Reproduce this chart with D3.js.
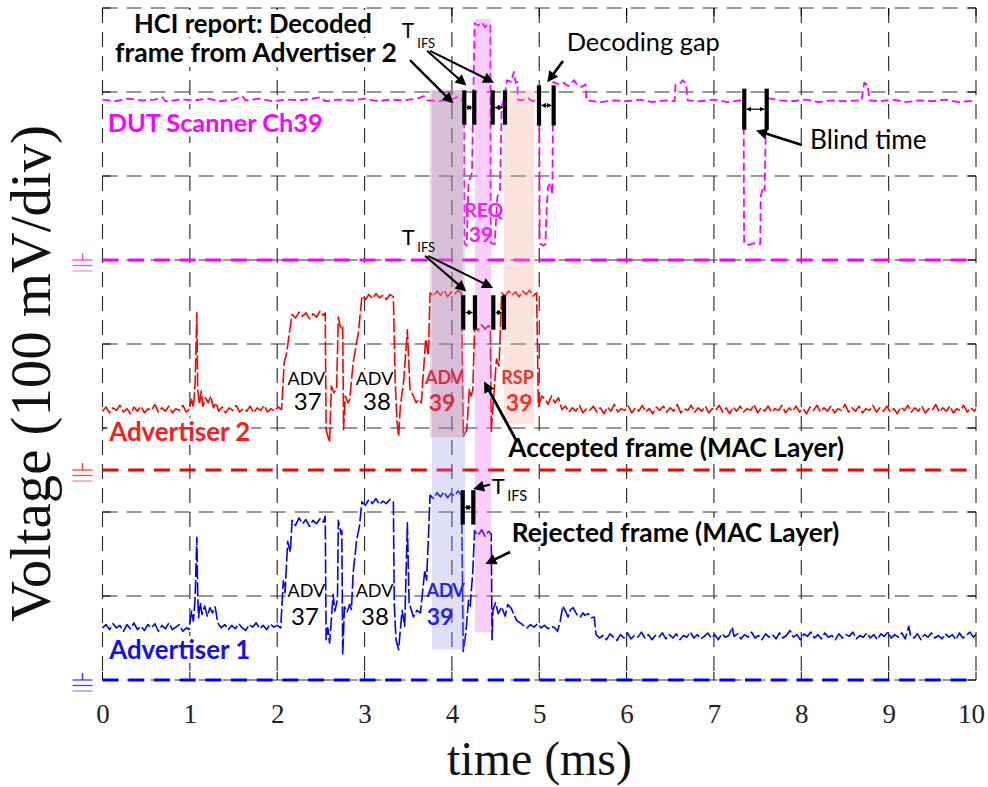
<!DOCTYPE html>
<html>
<head>
<meta charset="utf-8">
<script src="https://cdn.jsdelivr.net/npm/d3@7"></script>
<style>
  html, body { margin: 0; padding: 0; background: #fff; }
  svg { display: block; }
</style>
</head>
<body>
<script>
// ---- Oscilloscope captures, values in mV above each channel's ground marker ----
// [time (ms), voltage (mV)]
const scannerCh39 = [
  [0.00,191],[0.15,189],[0.30,192],[0.45,190],[0.60,191],[0.68,194],[0.72,189],[0.90,191],[1.05,190],[1.20,192],
  [1.35,189],[1.50,191],[1.60,195],[1.64,190],[1.80,192],[1.95,189],[2.10,191],[2.25,190],[2.40,192],[2.50,194],
  [2.55,189],[2.70,191],[2.85,190],[3.00,192],[3.15,189],[3.30,191],[3.45,190],[3.60,192],[3.68,195],[3.72,190],
  [3.85,189],[4.00,191],[4.06,194],[4.10,190],[4.14,191],
  [4.145,20],[4.17,17],[4.19,92],[4.23,104],[4.26,282],[4.30,279],[4.34,283],[4.38,277],[4.41,281],[4.44,280],
  [4.445,20],[4.49,19],[4.52,75],[4.55,83],[4.57,182],[4.60,193],[4.63,214],[4.68,212],[4.71,224],[4.73,211],
  [4.75,212],[4.755,191],[4.80,190],[4.87,193],[4.92,189],[5.00,191],
  [5.005,20],[5.02,19],[5.05,17],[5.07,19],[5.085,60],[5.10,87],[5.13,92],[5.15,78],[5.16,212],[5.22,209],
  [5.28,211],[5.33,207],[5.40,214],[5.43,209],[5.48,206],[5.53,209],
  [5.54,190],[5.70,188],[5.85,190],[6.00,189],[6.15,191],[6.30,188],[6.45,190],[6.55,189],[6.56,209],[6.62,211],
  [6.64,214],[6.68,210],[6.70,190],[6.85,189],[7.00,191],[7.15,188],[7.30,190],[7.34,189],
  [7.345,20],[7.40,18],[7.46,20],[7.53,19],[7.535,75],[7.56,87],[7.58,83],[7.60,193],[7.75,190],[7.90,189],
  [8.05,191],[8.20,188],[8.35,190],[8.50,189],[8.65,190],[8.69,190],[8.72,211],[8.76,209],[8.78,190],[8.90,189],
  [9.05,191],[9.20,188],[9.35,190],[9.50,189],[9.65,191],[9.80,188],[10.00,190]
];

const advertiser2 = [
  [0.00,70],[0.04,75],[0.08,68],[0.12,74],[0.16,71],[0.20,77],[0.24,69],[0.28,73],[0.32,67],[0.36,75],
  [0.40,70],[0.44,76],[0.48,68],[0.52,73],[0.56,71],[0.60,78],[0.64,69],[0.68,74],[0.72,70],[0.76,76],
  [0.80,68],[0.84,73],[0.88,71],[0.92,77],[0.96,69],[0.99,72],
  [1.02,84],[1.04,74],[1.06,102],[1.08,187],[1.09,96],[1.11,78],[1.13,94],[1.15,76],[1.18,86],[1.21,80],
  [1.24,88],[1.27,74],[1.30,80],[1.33,70],[1.37,75],[1.41,68],[1.45,74],[1.49,71],[1.53,77],[1.57,69],
  [1.61,73],[1.65,70],[1.69,76],[1.73,68],[1.77,74],[1.81,71],[1.85,77],[1.89,69],[1.93,73],[1.97,70],
  [2.01,75],[2.05,72],
  [2.08,128],[2.11,140],[2.14,164],[2.17,185],[2.21,181],[2.25,188],[2.29,183],[2.33,187],[2.37,180],[2.41,186],
  [2.45,182],[2.49,189],[2.53,184],[2.55,187],
  [2.56,48],[2.60,33],[2.62,100],[2.65,92],[2.68,96],[2.70,182],[2.73,167],[2.75,170],[2.76,48],[2.78,88],
  [2.81,80],[2.83,84],[2.87,128],[2.93,164],[2.97,207],
  [3.01,203],[3.05,209],[3.09,204],[3.13,210],[3.17,205],[3.21,208],[3.25,203],[3.29,209],[3.33,206],
  [3.35,108],[3.37,60],[3.39,40],[3.41,76],[3.45,108],[3.49,167],[3.52,96],[3.56,88],[3.59,80],[3.62,84],
  [3.65,80],[3.70,156],[3.73,136],[3.75,211],
  [3.79,207],[3.83,213],[3.87,208],[3.91,214],[3.95,206],[3.99,212],[4.03,209],[4.07,214],[4.11,210],
  [4.13,40],[4.17,48],[4.20,96],[4.22,88],[4.24,96],[4.26,171],[4.30,166],[4.34,173],[4.38,168],[4.42,172],[4.44,169],
  [4.45,45],[4.47,76],[4.51,132],[4.54,124],[4.57,211],[4.61,207],[4.65,213],[4.69,208],[4.73,212],[4.77,206],
  [4.81,213],[4.85,209],[4.89,214],[4.93,207],[4.97,211],
  [4.99,76],[5.03,88],[5.07,84],[5.10,78],[5.14,88],[5.18,80],[5.22,86],[5.26,72],
  [5.30,76],[5.34,69],[5.38,74],[5.42,70],[5.46,77],[5.50,68],[5.54,73],[5.58,71],[5.62,76],[5.66,69],
  [5.70,74],[5.74,67],[5.78,75],[5.82,70],[5.86,78],[5.90,69],[5.94,73],[5.98,71],[6.02,76],[6.06,68],
  [6.10,74],[6.14,70],[6.18,77],[6.22,69],[6.26,73],[6.30,67],[6.34,75],[6.38,71],[6.42,76],[6.46,69],
  [6.50,74],[6.54,70],[6.58,78],[6.62,68],[6.66,73],[6.70,71],[6.74,77],[6.78,69],[6.82,74],[6.86,70],
  [6.90,76],[6.94,68],[6.98,73],[7.02,71],[7.06,77],[7.10,69],[7.14,74],[7.18,67],[7.22,75],[7.26,70],
  [7.30,76],[7.34,69],[7.38,73],[7.42,71],[7.46,78],[7.50,68],[7.54,74],[7.58,70],[7.62,76],[7.66,69],
  [7.70,73],[7.74,71],[7.78,77],[7.82,68],[7.86,74],[7.90,70],[7.94,76],[7.98,69],[8.02,73],[8.06,67],
  [8.10,75],[8.14,71],[8.18,77],[8.22,69],[8.26,74],[8.30,70],[8.34,76],[8.38,68],[8.42,73],[8.46,71],
  [8.50,78],[8.54,69],[8.58,74],[8.62,70],[8.66,76],[8.70,68],[8.74,73],[8.78,71],[8.82,77],[8.86,69],
  [8.90,74],[8.94,70],[8.98,76],[9.02,69],[9.06,73],[9.10,67],[9.14,75],[9.18,71],[9.22,77],[9.26,69],
  [9.30,74],[9.34,70],[9.38,76],[9.42,68],[9.46,73],[9.50,71],[9.54,78],[9.58,69],[9.62,74],[9.66,70],
  [9.70,76],[9.74,68],[9.78,73],[9.82,71],[9.86,77],[9.90,69],[9.94,74],[9.98,70],[10.00,73]
];

const advertiser1 = [
  [0.00,62],[0.04,66],[0.08,60],[0.12,67],[0.16,62],[0.20,65],[0.24,58],[0.28,66],[0.32,61],[0.36,68],
  [0.40,60],[0.44,64],[0.48,59],[0.52,66],[0.56,62],[0.60,67],[0.64,58],[0.68,65],[0.72,61],[0.76,68],
  [0.80,60],[0.84,63],[0.88,66],[0.92,58],[0.96,62],[0.99,60],
  [1.02,82],[1.04,70],[1.06,96],[1.08,170],[1.09,102],[1.10,74],[1.12,92],[1.14,78],[1.17,88],[1.20,76],
  [1.23,86],[1.26,80],[1.29,87],[1.32,68],[1.36,62],[1.40,66],[1.44,60],[1.48,65],[1.52,61],[1.56,67],
  [1.60,62],[1.64,59],[1.68,66],[1.72,63],[1.76,68],[1.80,61],[1.84,65],[1.88,60],[1.92,67],[1.96,63],
  [2.00,65],[2.04,62],
  [2.07,118],[2.09,104],[2.12,165],[2.15,152],[2.17,190],[2.21,184],[2.25,193],[2.29,186],[2.33,191],[2.37,183],
  [2.41,190],[2.45,186],[2.49,192],[2.53,188],[2.55,195],
  [2.56,48],[2.58,62],[2.60,44],[2.62,72],[2.64,102],[2.66,82],[2.69,96],[2.70,190],[2.73,174],[2.74,178],
  [2.75,30],[2.77,87],[2.80,81],[2.83,90],[2.85,84],[2.87,128],[2.91,167],[2.94,182],[2.97,212],
  [3.01,208],[3.05,215],[3.09,210],[3.13,216],[3.17,209],[3.21,213],[3.25,210],[3.29,215],[3.33,212],
  [3.34,92],[3.36,48],[3.39,36],[3.41,60],[3.43,83],[3.46,64],[3.49,187],[3.51,92],[3.56,75],[3.60,83],
  [3.64,80],[3.69,131],[3.71,119],[3.73,167],[3.75,220],
  [3.79,216],[3.83,223],[3.87,218],[3.91,224],[3.95,217],[3.99,222],[4.03,219],[4.07,225],[4.11,220],
  [4.13,34],[4.16,56],[4.19,95],[4.21,88],[4.24,131],[4.26,178],[4.30,172],[4.34,179],[4.38,171],[4.42,177],[4.45,174],
  [4.46,48],[4.47,83],[4.50,92],[4.53,79],[4.57,87],[4.61,76],[4.64,90],[4.68,85],[4.71,78],[4.74,71],
  [4.78,68],[4.82,65],[4.86,62],[4.90,66],[4.94,63],[4.98,67],[5.02,62],[5.06,65],[5.10,61],[5.14,64],
  [5.18,62],[5.21,58],[5.24,70],[5.27,88],[5.30,82],[5.33,75],[5.36,84],[5.39,86],[5.43,78],[5.47,75],
  [5.50,80],[5.52,77],[5.56,79],[5.60,74],[5.63,75],
  [5.65,54],[5.69,50],[5.73,53],[5.77,48],[5.81,55],[5.85,51],[5.89,47],[5.93,54],[5.97,50],[6.01,56],
  [6.05,49],[6.09,53],[6.13,51],[6.17,57],[6.21,50],[6.25,54],[6.29,48],[6.33,53],[6.37,51],[6.41,56],
  [6.45,49],[6.49,54],[6.53,50],[6.57,55],[6.61,48],[6.65,53],[6.69,51],[6.73,57],[6.77,50],[6.81,54],
  [6.85,49],[6.89,52],[6.93,56],[6.97,50],[7.01,54],[7.05,48],[7.09,55],[7.13,51],[7.17,53],[7.21,63],
  [7.23,52],[7.27,55],[7.31,49],[7.35,54],[7.39,51],[7.43,57],[7.47,50],[7.51,53],[7.55,48],[7.59,55],
  [7.63,51],[7.67,54],[7.71,49],[7.75,56],[7.79,50],[7.83,53],[7.87,59],[7.91,51],[7.95,54],[7.99,48],
  [8.03,55],[8.07,52],[8.11,57],[8.15,50],[8.19,54],[8.23,49],[8.27,56],[8.31,51],[8.35,53],[8.39,48],
  [8.43,55],[8.47,50],[8.51,54],[8.55,52],[8.59,57],[8.63,49],[8.67,53],[8.71,51],[8.75,56],[8.79,50],
  [8.83,54],[8.87,48],[8.91,55],[8.95,52],[8.99,57],[9.03,50],[9.07,54],[9.11,51],[9.15,56],[9.19,49],
  [9.23,64],[9.25,53],[9.29,50],[9.33,55],[9.37,48],[9.41,54],[9.45,51],[9.49,56],[9.53,50],[9.57,53],
  [9.61,49],[9.65,55],[9.69,51],[9.73,54],[9.77,48],[9.81,56],[9.85,50],[9.89,53],[9.93,57],[9.97,51],[10.00,54]
];

// Channel ground offsets on the screen (mV, 100 mV per division)
const channelGround = { scanner: 500, adv2: 250, adv1: 0 };

// Axis ticks
const timeTicks = [0, 1, 2, 3, 4, 5, 6, 7, 8, 9, 10];
const voltTicks = [0, 100, 200, 300, 400, 500, 600, 700, 800];

// Highlighted frames: time span and screen-voltage span
const frameBands = [
  { name: "adv1-adv39", t0: 3.772, t1: 4.150, v0: 36,  v1: 702, fill: "rgb(150,150,235)", op: 0.30 },
  { name: "adv2-adv39", t0: 3.749, t1: 4.127, v0: 289, v1: 702, fill: "rgb(200,120,140)", op: 0.30 },
  { name: "scan-req39", t0: 4.264, t1: 4.448, v0: 57,  v1: 787, fill: "rgb(238,88,238)",  op: 0.30 },
  { name: "adv2-rsp39", t0: 4.596, t1: 4.940, v0: 305, v1: 702, fill: "rgb(245,165,145)", op: 0.30 }
];

// Interval brackets (T_IFS, decoding gap, blind time)
const intervalMarks = [
  { t0: 4.142, t1: 4.256, v0: 661, v1: 702 },
  { t0: 4.467, t1: 4.608, v0: 661, v1: 702 },
  { t0: 4.997, t1: 5.165, v0: 660, v1: 708 },
  { t0: 7.347, t1: 7.604, v0: 655, v1: 704 },
  { t0: 4.130, t1: 4.264, v0: 417, v1: 458 },
  { t0: 4.474, t1: 4.596, v0: 417, v1: 458 },
  { t0: 4.124, t1: 4.245, v0: 185, v1: 226 }
];

// Call-out arrows: from [t, v] to tip [t, v]
const callouts = [
  { from: [3.52, 738],  to: [4.035, 684.5], w: 2.4 },
  { from: [3.715, 749], to: [4.184, 706],   w: 2.0 },
  { from: [3.75, 749],  to: [4.505, 710],   w: 2.0 },
  { from: [5.272, 737], to: [5.077, 709.5], w: 2.6 },
  { from: [8.008, 637], to: [7.459, 655],   w: 2.6 },
  { from: [3.692, 505], to: [4.184, 461],   w: 2.0 },
  { from: [3.726, 505], to: [4.494, 465.5], w: 2.0 },
  { from: [4.734, 285.7], to: [4.356, 357.7], w: 2.8 },
  { from: [4.437, 232.7], to: [4.219, 226.8], w: 2.0 },
  { from: [4.665, 152.4], to: [4.362, 136.9], w: 2.6 }
];

const SANS = "Lato, 'Open Sans', 'Noto Sans', sans-serif";
const SERIF = "'Liberation Serif', 'DejaVu Serif', serif";
const MAGENTA = "#ff00ff", RED = "#ff0000", BLUE = "#0000ff";

// Single-line annotations: position [t, v], target width in px (font size fitted to it)
const labels = [
  { text: "HCI report: Decoded", t: 1.722, v: 770.5, anchor: "middle", width: 238, size: 22, weight: 700, bg: true },
  { text: "frame from Advertiser 2", t: 1.757, v: 735.7, anchor: "middle", width: 282, size: 22, weight: 700, bg: true },
  { text: "DUT Scanner Ch39", t: 0.060, v: 652, width: 215, size: 22, weight: 700, color: MAGENTA, bg: true },
  { text: "Advertiser 2", t: 0.078, v: 285, width: 141, size: 22, weight: 700, color: "#ff1a1a", bg: true },
  { text: "Advertiser 1", t: 0.078, v: 25, width: 141, size: 22, weight: 700, color: "#1212f0", bg: true },
  { text: "T",   t: 3.425, v: 764,   size: 21 },
  { text: "IFS", t: 3.604, v: 752,   size: 13 },
  { text: "T",   t: 3.425, v: 518,   size: 22 },
  { text: "IFS", t: 3.604, v: 510,   size: 13 },
  { text: "T",   t: 4.456, v: 221.4, size: 22 },
  { text: "IFS", t: 4.634, v: 213.1, size: 14.5 },
  { text: "Decoding gap", t: 5.314, v: 749.2, width: 153.3, size: 22, bg: true },
  { text: "Blind time", t: 8.100, v: 632, width: 116.7, size: 22, bg: true },
  { text: "Accepted frame (MAC Layer)", t: 4.646, v: 265.8, width: 335.7, size: 22, weight: 700, bg: true },
  { text: "Rejected frame (MAC Layer)", t: 4.685, v: 164.6, width: 327.6, size: 22, weight: 700, bg: true }
];

// Two-line packet labels: frame type over channel number.
// Labels inside a highlighted band are drawn over it in a band-tinted colour.
const packetLabels = [
  { top: "ADV", bottom: "37", t1: 2.335, t2: 2.350, v1: 351,  v2: 321,  s1: 18, s2: 24, color: "#000", weight: 400, bg: true },
  { top: "ADV", bottom: "38", t1: 3.114, t2: 3.143, v1: 351,  v2: 321,  s1: 18, s2: 24, color: "#000", weight: 400, bg: true },
  { top: "ADV", bottom: "39", t1: 3.910, t2: 3.887, v1: 352.5, v2: 320, s1: 18, s2: 23, color: "#e02a44", weight: 700, inBand: true },
  { top: "RSP", bottom: "39", t1: 4.751, t2: 4.770, v1: 352.5, v2: 320, s1: 18, s2: 23, color: "#f2302e", weight: 700, inBand: true },
  { top: "ADV", bottom: "37", t1: 2.335, t2: 2.318, v1: 98.5, v2: 65,   s1: 18, s2: 24, color: "#000", weight: 400, bg: true },
  { top: "ADV", bottom: "38", t1: 3.114, t2: 3.120, v1: 98.5, v2: 65,   s1: 18, s2: 24, color: "#000", weight: 400, bg: true },
  { top: "ADV", bottom: "39", t1: 3.927, t2: 3.864, v1: 99,   v2: 65,   s1: 18, s2: 23, color: "#2424e8", weight: 700, inBand: true },
  { top: "REQ", bottom: "39", t1: 4.365, t2: 4.331, v1: 551,  v2: 521,  s1: 19.5, s2: 21, color: "#f01ef0", weight: 700, inBand: true }
];

// ---- Layout ----
const W = 988, H = 787;
const plot = { left: 102.5, right: 976, top: 8, bottom: 680 };

const x = d3.scaleLinear().domain([0, 10]).range([plot.left, plot.right]);
const y = d3.scaleLinear().domain([0, 800]).range([plot.bottom, plot.top]);

const svg = d3.select("body").append("svg")
  .attr("width", W).attr("height", H)
  .attr("viewBox", `0 0 ${W} ${H}`);

const defs = svg.append("defs");
defs.append("marker")
  .attr("id", "head").attr("viewBox", "0 0 10 10")
  .attr("refX", 3).attr("refY", 5)
  .attr("markerWidth", 14).attr("markerHeight", 11)
  .attr("markerUnits", "userSpaceOnUse").attr("orient", "auto")
  .append("path").attr("d", "M0,0L10,5L0,10z").attr("fill", "#000");
defs.append("marker")
  .attr("id", "small").attr("viewBox", "0 0 10 10")
  .attr("refX", 9).attr("refY", 5)
  .attr("markerWidth", 5).attr("markerHeight", 5)
  .attr("markerUnits", "userSpaceOnUse").attr("orient", "auto-start-reverse")
  .append("path").attr("d", "M0,0L10,5L0,10z").attr("fill", "#000");

svg.append("rect").attr("width", W).attr("height", H).attr("fill", "#fff");

// ---- Grid ----
const grid = svg.append("g").attr("stroke", "#333").attr("stroke-width", 1.2)
  .attr("stroke-dasharray", "15,9").attr("fill", "none");
grid.selectAll("line.v").data(timeTicks).join("line").attr("class", "v")
  .attr("x1", d => x(d)).attr("x2", d => x(d))
  .attr("y1", y(800)).attr("y2", y(0));
grid.selectAll("line.h").data(voltTicks).join("line").attr("class", "h")
  .attr("x1", x(0)).attr("x2", x(10))
  .attr("y1", d => y(d)).attr("y2", d => y(d));

// Inward ticks on all four sides
const ticks = svg.append("g").attr("stroke", "#000").attr("stroke-width", 1);
const TL = 8;
timeTicks.forEach(d => {
  ticks.append("line").attr("x1", x(d)).attr("x2", x(d)).attr("y1", y(0)).attr("y2", y(0) - TL);
  ticks.append("line").attr("x1", x(d)).attr("x2", x(d)).attr("y1", y(800)).attr("y2", y(800) + TL);
});
voltTicks.forEach(d => {
  ticks.append("line").attr("x1", x(0)).attr("x2", x(0) + TL).attr("y1", y(d)).attr("y2", y(d));
  ticks.append("line").attr("x1", x(10)).attr("x2", x(10) - TL).attr("y1", y(d)).attr("y2", y(d));
});

// ---- Text labels (with white backing where they sit on the grid) ----
const textLayer = svg.append("g");
const bandTextLayer = svg.append("g"); // moved above the highlight bands later
const overLayer = svg.append("g");     // moved above the arrows later

function addBacking(g, el) {
  const b = el.node().getBBox();
  g.insert("rect", () => el.node())
    .attr("x", b.x - 1).attr("y", b.y + 2)
    .attr("width", b.width + 2).attr("height", b.height - 3)
    .attr("fill", "#fff");
}

function drawLabel(g, L) {
  const el = g.append("text")
    .attr("x", x(L.t)).attr("y", y(L.v))
    .attr("text-anchor", L.anchor || "start")
    .attr("font-family", SANS)
    .attr("font-weight", L.weight || 400)
    .attr("font-size", L.size)
    .attr("fill", L.color || "#000")
    .text(L.text);
  if (L.width) {
    const w = el.node().getComputedTextLength();
    el.attr("font-size", L.size * L.width / w);
  }
  if (L.bg) addBacking(g, el);
  return el;
}

labels.forEach(L => {
  const onTop = L.text === "T" || L.text === "IFS";
  drawLabel(onTop ? overLayer : textLayer, L);
});

packetLabels.forEach(P => {
  const g = P.inBand ? bandTextLayer : textLayer;
  const el = g.append("text")
    .attr("text-anchor", "middle")
    .attr("font-family", SANS)
    .attr("font-weight", P.weight)
    .attr("fill", P.color);
  el.append("tspan").attr("x", x(P.t1)).attr("y", y(P.v1))
    .attr("font-size", P.s1).text(P.top);
  el.append("tspan").attr("x", x(P.t2)).attr("y", y(P.v2))
    .attr("font-size", P.s2).text(P.bottom);
  if (P.bg) addBacking(g, el);
});

// ---- Ground reference markers ----
const grounds = [
  { v: channelGround.scanner, color: MAGENTA },
  { v: channelGround.adv2, color: RED },
  { v: channelGround.adv1, color: BLUE }
];
const gnd = svg.append("g");
grounds.forEach(g0 => {
  const gy = y(g0.v);
  gnd.append("line").attr("x1", x(0)).attr("x2", x(10)).attr("y1", gy).attr("y2", gy)
    .attr("stroke", g0.color).attr("stroke-width", 3).attr("stroke-dasharray", "16,9.7");
  const sx0 = x(0) - 30, sx1 = x(0) - 10, cx = (sx0 + sx1) / 2;
  gnd.append("line").attr("x1", cx).attr("x2", cx).attr("y1", gy - 7).attr("y2", gy)
    .attr("stroke", g0.color).attr("stroke-width", 1.4).attr("opacity", 0.75);
  [0, 5.5, 11].forEach((dy, i) => {
    gnd.append("line").attr("x1", sx0).attr("x2", sx1).attr("y1", gy + dy).attr("y2", gy + dy)
      .attr("stroke", g0.color).attr("stroke-width", 1.3).attr("opacity", i === 2 ? 0.45 : 0.75);
  });
});

// ---- Traces ----
const traces = [
  { data: scannerCh39, ground: channelGround.scanner, color: MAGENTA, dash: "8,4", w: 1.8 },
  { data: advertiser2, ground: channelGround.adv2, color: RED, dash: "14,3", w: 1.6 },
  { data: advertiser1, ground: channelGround.adv1, color: BLUE, dash: "14,3", w: 1.6 }
];
const traceLayer = svg.append("g");
traces.forEach(tr => {
  const line = d3.line().x(d => x(d[0])).y(d => y(tr.ground + d[1]));
  traceLayer.append("path").datum(tr.data)
    .attr("d", line).attr("fill", "none")
    .attr("stroke", tr.color).attr("stroke-width", tr.w)
    .attr("stroke-dasharray", tr.dash).attr("stroke-linejoin", "round");
});

// ---- Highlighted frame bands ----
svg.append("g").selectAll("rect").data(frameBands).join("rect")
  .attr("x", d => x(d.t0)).attr("y", d => y(d.v1))
  .attr("width", d => x(d.t1) - x(d.t0)).attr("height", d => y(d.v0) - y(d.v1))
  .attr("fill", d => d.fill).attr("fill-opacity", d => d.op);

svg.node().appendChild(bandTextLayer.node());

// ---- Interval brackets ----
const marks = svg.append("g");
intervalMarks.forEach(m => {
  [m.t0, m.t1].forEach(t => {
    marks.append("line").attr("x1", x(t)).attr("x2", x(t)).attr("y1", y(m.v0)).attr("y2", y(m.v1))
      .attr("stroke", "#000").attr("stroke-width", 4.2);
  });
  const my = y((m.v0 + m.v1) / 2);
  marks.append("line").attr("x1", x(m.t0) + 2.5).attr("x2", x(m.t1) - 2.5).attr("y1", my).attr("y2", my)
    .attr("stroke", "#000").attr("stroke-width", 1.2)
    .attr("marker-start", "url(#small)").attr("marker-end", "url(#small)");
});

// ---- Call-out arrows ----
callouts.forEach(c => {
  const x0 = x(c.from[0]), y0 = y(c.from[1]), x1 = x(c.to[0]), y1 = y(c.to[1]);
  const len = Math.hypot(x1 - x0, y1 - y0);
  const ux = (x1 - x0) / len, uy = (y1 - y0) / len;
  const back = 14 * 0.7;
  marks.append("line")
    .attr("x1", x0).attr("y1", y0).attr("x2", x1 - ux * back).attr("y2", y1 - uy * back)
    .attr("stroke", "#000").attr("stroke-width", c.w)
    .attr("marker-end", "url(#head)");
});

svg.node().appendChild(overLayer.node());

// ---- Axes text ----
const xAxis = d3.axisBottom(x).tickValues(timeTicks).tickSize(0).tickFormat(d3.format("d"));
svg.append("g").attr("transform", `translate(0,${y(0)})`).call(xAxis)
  .call(g => g.select(".domain").remove())
  .selectAll("text")
  .attr("y", 43).attr("dy", 0)
  .attr("dx", d => d === 10 ? -5 : 0)
  .attr("font-family", SERIF).attr("font-size", 27).attr("fill", "#222");

const xl = svg.append("text").attr("x", 539.5).attr("y", 775)
  .attr("text-anchor", "middle").attr("font-family", SERIF).attr("font-size", 46)
  .attr("fill", "#111").text("time (ms)");
xl.attr("font-size", 46 * 185 / xl.node().getComputedTextLength());

const yl = svg.append("text").attr("transform", "translate(50,373.5) rotate(-90)")
  .attr("text-anchor", "middle").attr("font-family", SERIF).attr("font-size", 50)
  .attr("fill", "#111").text("Voltage (100 mV/div)");
yl.attr("font-size", 50 * 497 / yl.node().getComputedTextLength());
</script>
</body>
</html>
